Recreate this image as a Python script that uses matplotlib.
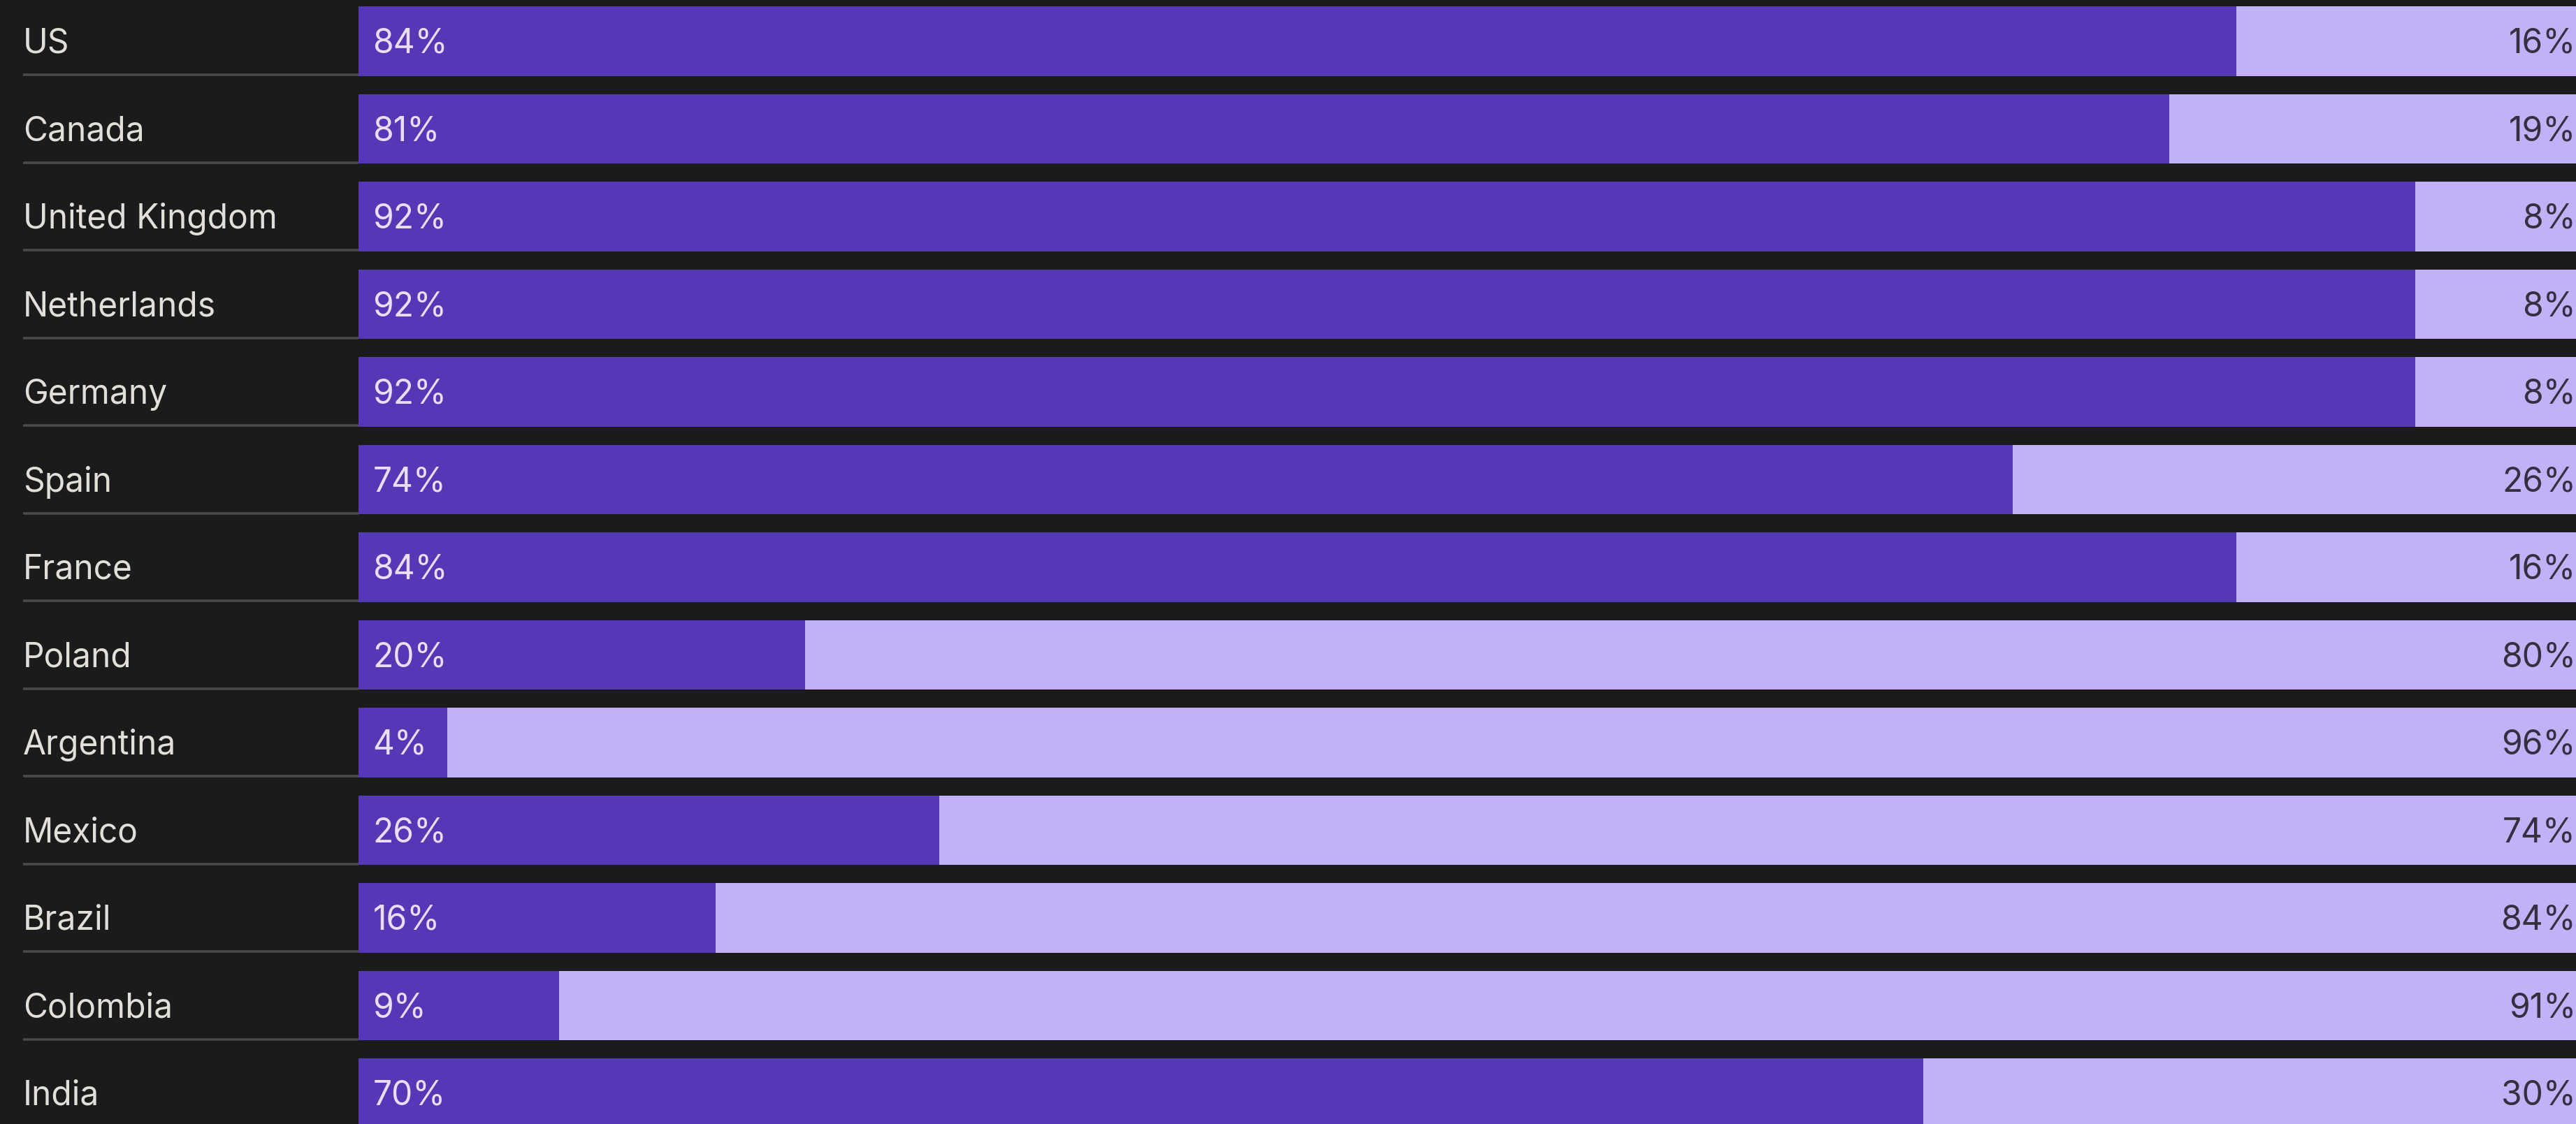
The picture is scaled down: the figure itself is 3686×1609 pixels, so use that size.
import matplotlib
matplotlib.use("Agg")
import matplotlib.pyplot as plt
import matplotlib.transforms as mtransforms

countries = ["US", "Canada", "United Kingdom", "Netherlands", "Germany", "Spain",
             "France", "Poland", "Argentina", "Mexico", "Brazil", "Colombia", "India"]
share_a = [84, 81, 92, 92, 92, 74, 84, 20, 4, 26, 16, 9, 70]
share_b = [16, 19, 8, 8, 8, 26, 16, 80, 96, 74, 84, 91, 30]

W, H, DPI = 3687, 1609, 100
BG = "#1b1b1b"
DARK = "#5438b5"
LIGHT = "#c3b1f8"

plt.rcParams['font.family'] = ['Inter', 'DejaVu Sans']

fig = plt.figure(figsize=(W / DPI, H / DPI), dpi=DPI, facecolor=BG)
left_px = 512.5
ax = fig.add_axes([left_px / W, 0, 1 - left_px / W, 1])
ax.set_facecolor(BG)

pitch = 125.5
first_center = 59.0
top_row = -first_center / pitch
bottom_row = (H - first_center) / pitch
XMAX = 99.22
ax.set_xlim(0, XMAX)
ax.set_ylim(bottom_row, top_row)
bar_h = 99.5 / pitch

ys = list(range(len(countries)))
ax.barh(ys, share_a, height=bar_h, color=DARK, linewidth=0)
ax.barh(ys, share_b, left=share_a, height=bar_h, color=LIGHT, linewidth=0)

trans = mtransforms.blended_transform_factory(fig.transFigure, ax.transData)
trans_r = mtransforms.blended_transform_factory(ax.transAxes, ax.transData)
fs = 34.5
dy = 0.03
for i, (c, a, b) in enumerate(zip(countries, share_a, share_b)):
    ax.text(33 / W, i + dy, c, transform=trans, ha='left', va='center',
            fontsize=fs, color="#e2dfda")
    ax.plot([33 / W, left_px / W], [i + bar_h / 2 - 0.012] * 2, transform=trans,
            color="#4a4a4a", linewidth=2.6, clip_on=False, solid_capstyle='butt')
    ax.text(21 / (W - left_px) * XMAX, i + dy, f"{a}%", ha='left', va='center',
            fontsize=fs, color="#e8def6")
    ax.text(1 - 1 / (W - left_px), i + dy, f"{b}%", transform=trans_r, ha='right', va='center',
            fontsize=fs, color="#35303f")

ax.axis('off')
fig.savefig("out.png", dpi=DPI, facecolor=BG)
